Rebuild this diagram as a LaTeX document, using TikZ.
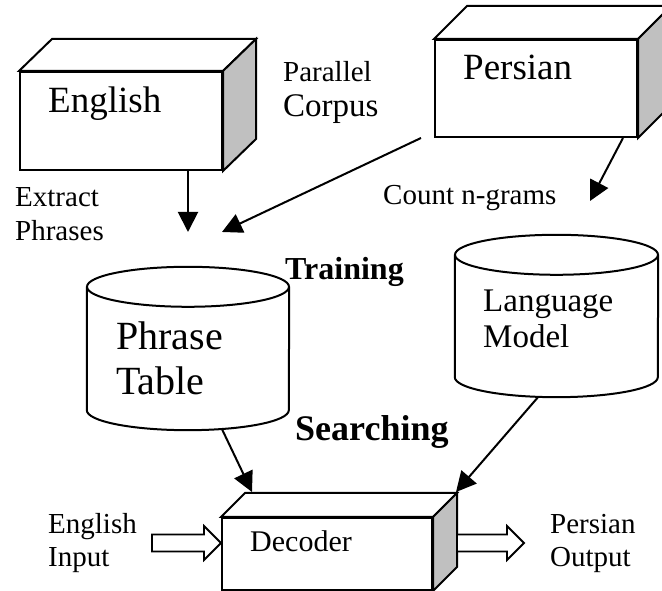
\documentclass[tikz,border=0pt]{standalone}
\usepackage{fontspec}
\setmainfont{Liberation Serif}
\usetikzlibrary{arrows.meta}
\definecolor{sidegray}{RGB}{192,192,192}
% top face and shaded side of a 3d box node
\newcommand\solidbox[3]{%
    \draw[line width=2pt,fill=white] (#1.north west) -- ++(#2,#3) -- ([shift={(#2pt,#3pt)}]#1.north east) -- (#1.north east) -- cycle;
    \draw[line width=2pt,fill=sidegray] (#1.north east) -- ++(#2,#3) -- ([shift={(#2pt,#3pt)}]#1.south east) -- (#1.south east) -- cycle;}
% drum outline round a node
\newcommand\drumshape[2]{%
    \draw[line width=2pt] (#1.north west) -- (#1.south west) arc[start angle=180,end angle=360,x radius=#2pt,y radius=20pt] -- (#1.north east);
    \draw[line width=2pt] (#1.north) ellipse[x radius=#2pt,y radius=20pt];}
\begin{document}
\begin{tikzpicture}[x=1pt,y=1pt,
    box/.style={draw,line width=2pt,fill=white,inner sep=0pt},
    drum/.style={inner sep=0pt},
    lbl/.style={anchor=base west,inner sep=0pt,font=\fontsize{29}{33}\selectfont},
    boxlbl/.style={lbl,font=\fontsize{37}{40}\selectfont},
    arr/.style={line width=2pt,-{Triangle[length=20pt,width=20pt]}},
    fat/.style={line width=1.8pt,fill=white,line join=miter}]
    \useasboundingbox (0,0) rectangle (662,591);
    % the two corpus boxes
    \node[box,minimum width=202pt,minimum height=98pt] (eng) at (121,470) {};
    \solidbox{eng}{33}{32}
    \node[boxlbl] (englbl) at (48,478) {English};
    \node[box,minimum width=202pt,minimum height=97pt] (per) at (536,502.5) {};
    \solidbox{per}{33}{33}
    \node[boxlbl] (perlbl) at (463,511) {Persian};
    \node[lbl,font=\fontsize{29}{33}\selectfont] (par) at (283,509) {Parallel};
    \node[lbl,font=\fontsize{33}{36}\selectfont] (corp) at (283,474) {Corpus};
    % drums
    \node[drum,minimum width=202pt,minimum height=123pt] (pt) at (188,242.5) {};
    \drumshape{pt}{101}
    \node[lbl,font=\fontsize{40}{44}\selectfont] (ptlbl1) at (116,241) {Phrase};
    \node[lbl,font=\fontsize{40}{44}\selectfont] (ptlbl2) at (116,196) {Table};
    \node[drum,minimum width=203pt,minimum height=122pt] (lm) at (556.5,275) {};
    \drumshape{lm}{101.5}
    \node[lbl,font=\fontsize{33}{36}\selectfont] (lmlbl1) at (483,279) {Language};
    \node[lbl,font=\fontsize{33}{36}\selectfont] (lmlbl2) at (483,243) {Model};
    % decoder
    \node[box,minimum width=210pt,minimum height=72pt] (dec) at (327,37) {};
    \solidbox{dec}{24}{24}
    \node[lbl,font=\fontsize{30}{33}\selectfont] (declbl) at (250,39) {Decoder};
    % side texts
    \node[lbl] (ext1) at (15,384) {Extract};
    \node[lbl] (ext2) at (15,350) {Phrases};
    \node[lbl] (cnt) at (383,386) {Count n-grams};
    \node[lbl,font=\bfseries\fontsize{32}{35}\selectfont] (train) at (285,311) {Training};
    \node[lbl,font=\bfseries\fontsize{36}{40}\selectfont] (search) at (295,150) {Searching};
    \node[lbl] (in1) at (48,57) {English};
    \node[lbl] (in2) at (48,24) {Input};
    \node[lbl] (out1) at (550,57) {Persian};
    \node[lbl] (out2) at (550,24) {Output};
    % training arrows
    \coordinate (ptin) at (188,359);
    \coordinate (ptin2) at (222,359);
    \coordinate (lmin) at (590,390);
    \draw[arr] (eng.south -| ptin) -- (ptin);
    \draw[arr] ([xshift=-13pt]per.south west) -- (ptin2);
    \draw[arr] ([xshift=87pt]per.south) -- (lmin);
    % searching arrows
    \draw[arr] ([shift={(34pt,-19pt)}]pt.south) -- ([shift={(31pt,25pt)}]dec.north west);
    \draw[arr] ([shift={(-18.5pt,-20pt)}]lm.south) -- ([shift={(23pt,25pt)}]dec.north east);
    % input and output
    \draw[fat] ([yshift=11pt]dec.west) -- ++(-17,17) -- ++(0,-8.5) -- ++(-52,0) -- ++(0,-17) -- ++(52,0) -- ++(0,-8.5) -- cycle;
    \draw[fat] ([shift={(91pt,11pt)}]dec.east) -- ++(-17,17) -- ++(0,-8.5) -- ++(-50,0) -- ++(0,-17) -- ++(50,0) -- ++(0,-8.5) -- cycle;
\end{tikzpicture}
\end{document}
